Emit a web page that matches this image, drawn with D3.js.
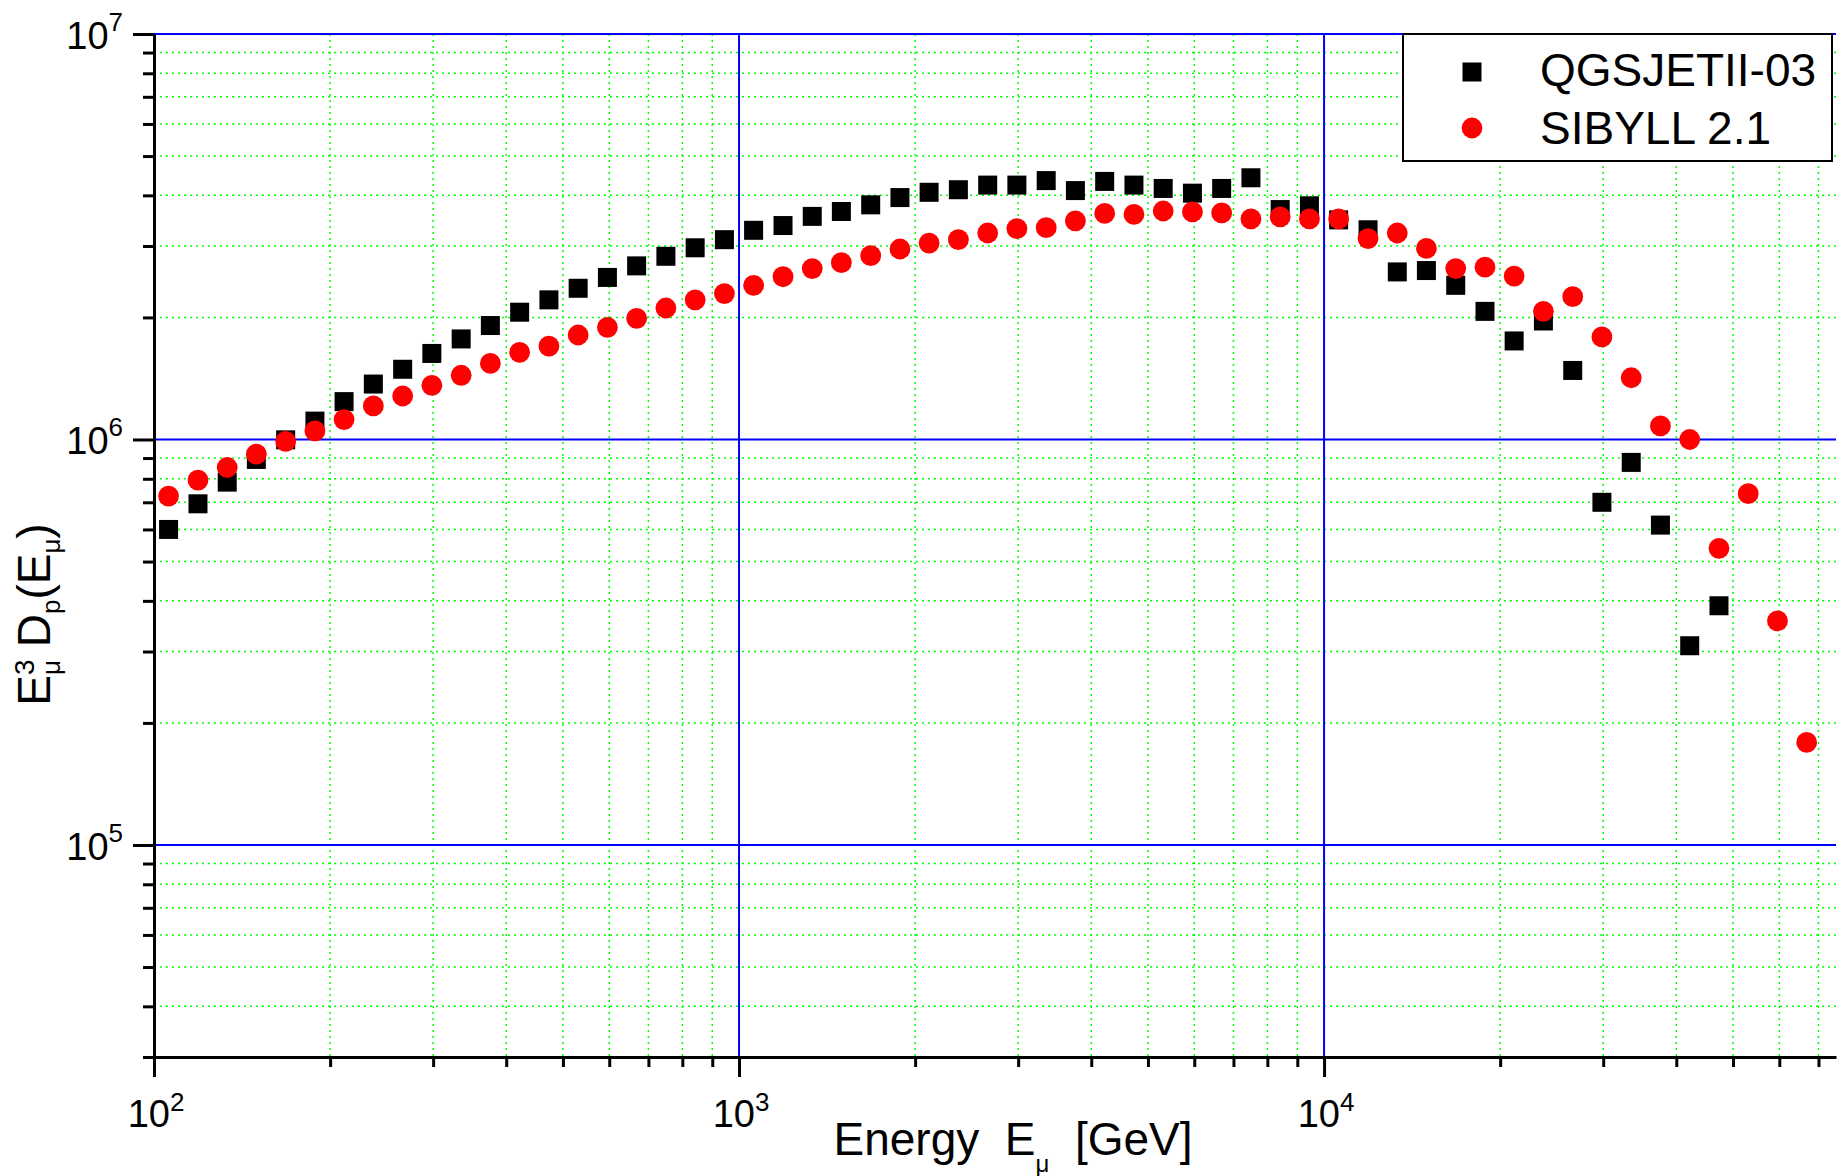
<!DOCTYPE html>
<html>
<head>
<meta charset="utf-8">
<script src="https://cdn.jsdelivr.net/npm/d3@7"></script>
<style>
    body { margin: 0; background: #fff; }
    text { font-family: "Liberation Sans", Arial, sans-serif; fill: #000; }
</style>
</head>
<body>
<script>
// muon energy bin centres [GeV], 20 bins per decade
var energy = [105.9, 118.9, 133.4, 149.6, 167.9, 188.4, 211.3, 237.1, 266.1, 298.5,
    335.0, 375.8, 421.7, 473.2, 530.9, 595.7, 668.3, 749.9, 841.4, 944.1,
    1059, 1189, 1334, 1496, 1679, 1884, 2113, 2371, 2661, 2985,
    3350, 3758, 4217, 4732, 5309, 5957, 6683, 7499, 8414, 9441,
    10590, 11890, 13340, 14960, 16790, 18840, 21130, 23710, 26610, 29850,
    33500, 37580, 42170, 47320, 53090, 59570, 66830];

// E^3 D_p(E) for each model
var qgsjet = [6.00e5, 6.94e5, 7.85e5, 8.93e5, 9.98e5, 1.11e6, 1.24e6, 1.37e6, 1.49e6, 1.63e6,
    1.77e6, 1.91e6, 2.06e6, 2.21e6, 2.36e6, 2.51e6, 2.68e6, 2.83e6, 2.97e6, 3.11e6,
    3.28e6, 3.37e6, 3.55e6, 3.65e6, 3.79e6, 3.95e6, 4.07e6, 4.13e6, 4.24e6, 4.24e6,
    4.35e6, 4.11e6, 4.33e6, 4.24e6, 4.16e6, 4.05e6, 4.16e6, 4.42e6, 3.69e6, 3.77e6,
    3.48e6, 3.29e6, 2.59e6, 2.61e6, 2.40e6, 2.07e6, 1.75e6, 1.96e6, 1.48e6, 7.00e5,
    8.78e5, 6.15e5, 3.10e5, 3.89e5];

var sibyll = [7.25e5, 7.94e5, 8.53e5, 9.20e5, 9.89e5, 1.05e6, 1.12e6, 1.21e6, 1.28e6, 1.36e6,
    1.44e6, 1.54e6, 1.64e6, 1.70e6, 1.81e6, 1.89e6, 1.99e6, 2.11e6, 2.21e6, 2.29e6,
    2.40e6, 2.52e6, 2.64e6, 2.73e6, 2.84e6, 2.95e6, 3.05e6, 3.11e6, 3.23e6, 3.31e6,
    3.33e6, 3.46e6, 3.61e6, 3.59e6, 3.66e6, 3.64e6, 3.62e6, 3.50e6, 3.54e6, 3.50e6,
    3.50e6, 3.13e6, 3.23e6, 2.96e6, 2.64e6, 2.66e6, 2.53e6, 2.07e6, 2.25e6, 1.79e6,
    1.42e6, 1.08e6, 1.00e6, 5.39e5, 7.35e5, 3.57e5, 1.79e5];

var seriesNames = ["QGSJETII-03", "SIBYLL 2.1"];
var xMajor = [100, 1000, 10000];
var yMajor = [1e5, 1e6, 1e7];
var xExp = ["2", "3", "4"];
var yExp = ["5", "6", "7"];

var margin = {top: 34, right: 3, bottom: 119, left: 154},
    width = 1839 - margin.left - margin.right,
    height = 1176 - margin.top - margin.bottom;

var svg = d3.select("body").append("svg")
    .attr("width", width + margin.left + margin.right)
    .attr("height", height + margin.top + margin.bottom)
    .append("g")
    .attr("transform", "translate(" + margin.left + "," + margin.top + ")");

var x = d3.scaleLog().domain([100, 75000]).range([0, width]);
var y = d3.scaleLog().domain([3e4, 1e7]).range([height, 0]);

var xTicks = x.ticks(), yTicks = y.ticks();

// minor grid (green dots)
var grid = svg.append("g");
grid.selectAll(".gx").data(xTicks.filter(d => !xMajor.includes(d))).enter()
    .append("line")
    .attr("x1", d => x(d)).attr("x2", d => x(d))
    .attr("y1", 0).attr("y2", height)
    .attr("stroke", "#00ff00").attr("stroke-width", 1.5).attr("stroke-dasharray", "2,4");
grid.selectAll(".gy").data(yTicks.filter(d => !yMajor.includes(d) && d > 3e4)).enter()
    .append("line")
    .attr("x1", 0).attr("x2", width)
    .attr("y1", d => y(d)).attr("y2", d => y(d))
    .attr("stroke", "#00ff00").attr("stroke-width", 1.5).attr("stroke-dasharray", "2,4");

// major grid (blue)
grid.selectAll(".mx").data(xMajor.slice(1)).enter()
    .append("line")
    .attr("x1", d => x(d)).attr("x2", d => x(d))
    .attr("y1", 0).attr("y2", height)
    .attr("stroke", "#0000ff").attr("stroke-width", 2);
grid.selectAll(".my").data(yMajor).enter()
    .append("line")
    .attr("x1", 0).attr("x2", width)
    .attr("y1", d => y(d)).attr("y2", d => y(d))
    .attr("stroke", "#0000ff").attr("stroke-width", 2);

// data
svg.append("g").selectAll("rect")
    .data(qgsjet).enter()
    .append("rect")
    .attr("x", (d, i) => x(energy[i]) - 9.5)
    .attr("y", d => y(d) - 9.5)
    .attr("width", 19).attr("height", 19)
    .attr("fill", "#000");

svg.append("g").selectAll("circle")
    .data(sibyll).enter()
    .append("circle")
    .attr("cx", (d, i) => x(energy[i]))
    .attr("cy", d => y(d))
    .attr("r", 10.4)
    .attr("fill", "#ff0000");

// axes
var xAxis = svg.append("g")
    .attr("transform", "translate(0," + height + ")")
    .call(d3.axisBottom(x).tickValues(xTicks).tickSizeOuter(0).tickFormat(""));
xAxis.selectAll(".tick line").attr("y2", d => xMajor.includes(d) ? 20 : 10);

var yAxis = svg.append("g")
    .call(d3.axisLeft(y).tickValues(yTicks).tickSizeOuter(0).tickFormat(""));
yAxis.selectAll(".tick line").attr("x2", d => yMajor.includes(d) ? -21 : -11);

[xAxis, yAxis].forEach(a => {
    a.select(".domain").attr("stroke-width", 3);
    a.selectAll(".tick line").attr("stroke-width", 3);
});

// tick labels 10^n
xMajor.forEach((d, i) => {
    var t = svg.append("text")
        .attr("x", x(d) + 2)
        .attr("y", height + 70)
        .attr("text-anchor", "middle");
    t.append("tspan").attr("font-size", 38).text("10");
    t.append("tspan").attr("font-size", 26).attr("dy", -16).text(xExp[i]);
});
yMajor.forEach((d, i) => {
    var t = svg.append("text")
        .attr("x", -31)
        .attr("y", y(d) + 15)
        .attr("text-anchor", "end");
    t.append("tspan").attr("font-size", 38).text("10");
    t.append("tspan").attr("font-size", 26).attr("dy", -18).text(yExp[i]);
});

// axis titles
var xt = svg.append("text")
    .attr("x", width / 2 + 18)
    .attr("y", height + 98)
    .attr("text-anchor", "middle")
    .attr("font-size", 46)
    .style("white-space", "pre");
xt.append("tspan").text("Energy  E");
xt.append("tspan").attr("font-size", 24).attr("dy", 17).text("\u03bc");
xt.append("tspan").attr("dy", -17).text("  [GeV]");

var yt = svg.append("text")
    .attr("transform", "translate(" + (50 - margin.left) + "," + (height / 2 + 69) + ") rotate(-90)")
    .attr("text-anchor", "middle")
    .attr("font-size", 46)
    .style("white-space", "pre");
yt.append("tspan").text("E");
yt.append("tspan").attr("font-size", 28).attr("dy", -16).text("3");
yt.append("tspan").attr("font-size", 26).attr("dx", -15.6).attr("dy", 26).text("\u03bc");
yt.append("tspan").attr("dy", -10).text(" D");
yt.append("tspan").attr("font-size", 26).attr("dy", 10).text("p");
yt.append("tspan").attr("dy", -10).text("(E");
yt.append("tspan").attr("font-size", 26).attr("dy", 10).text("\u03bc");
yt.append("tspan").attr("dy", -10).text(")");

// legend
var lg = svg.append("g").attr("transform", "translate(" + (width - 433) + ",0)");
lg.append("rect")
    .attr("x", 0).attr("y", 0)
    .attr("width", 429).attr("height", 127)
    .attr("fill", "#fff").attr("stroke", "#000").attr("stroke-width", 2);
lg.append("rect")
    .attr("x", 69 - 9.5).attr("y", 38 - 9.5)
    .attr("width", 19).attr("height", 19).attr("fill", "#000");
lg.append("circle")
    .attr("cx", 69).attr("cy", 94).attr("r", 10.4).attr("fill", "#ff0000");
lg.selectAll(".lt").data(seriesNames).enter()
    .append("text")
    .attr("x", 137)
    .attr("y", (d, i) => 52 + i * 58)
    .attr("font-size", 46)
    .text(d => d);
</script>
</body>
</html>
